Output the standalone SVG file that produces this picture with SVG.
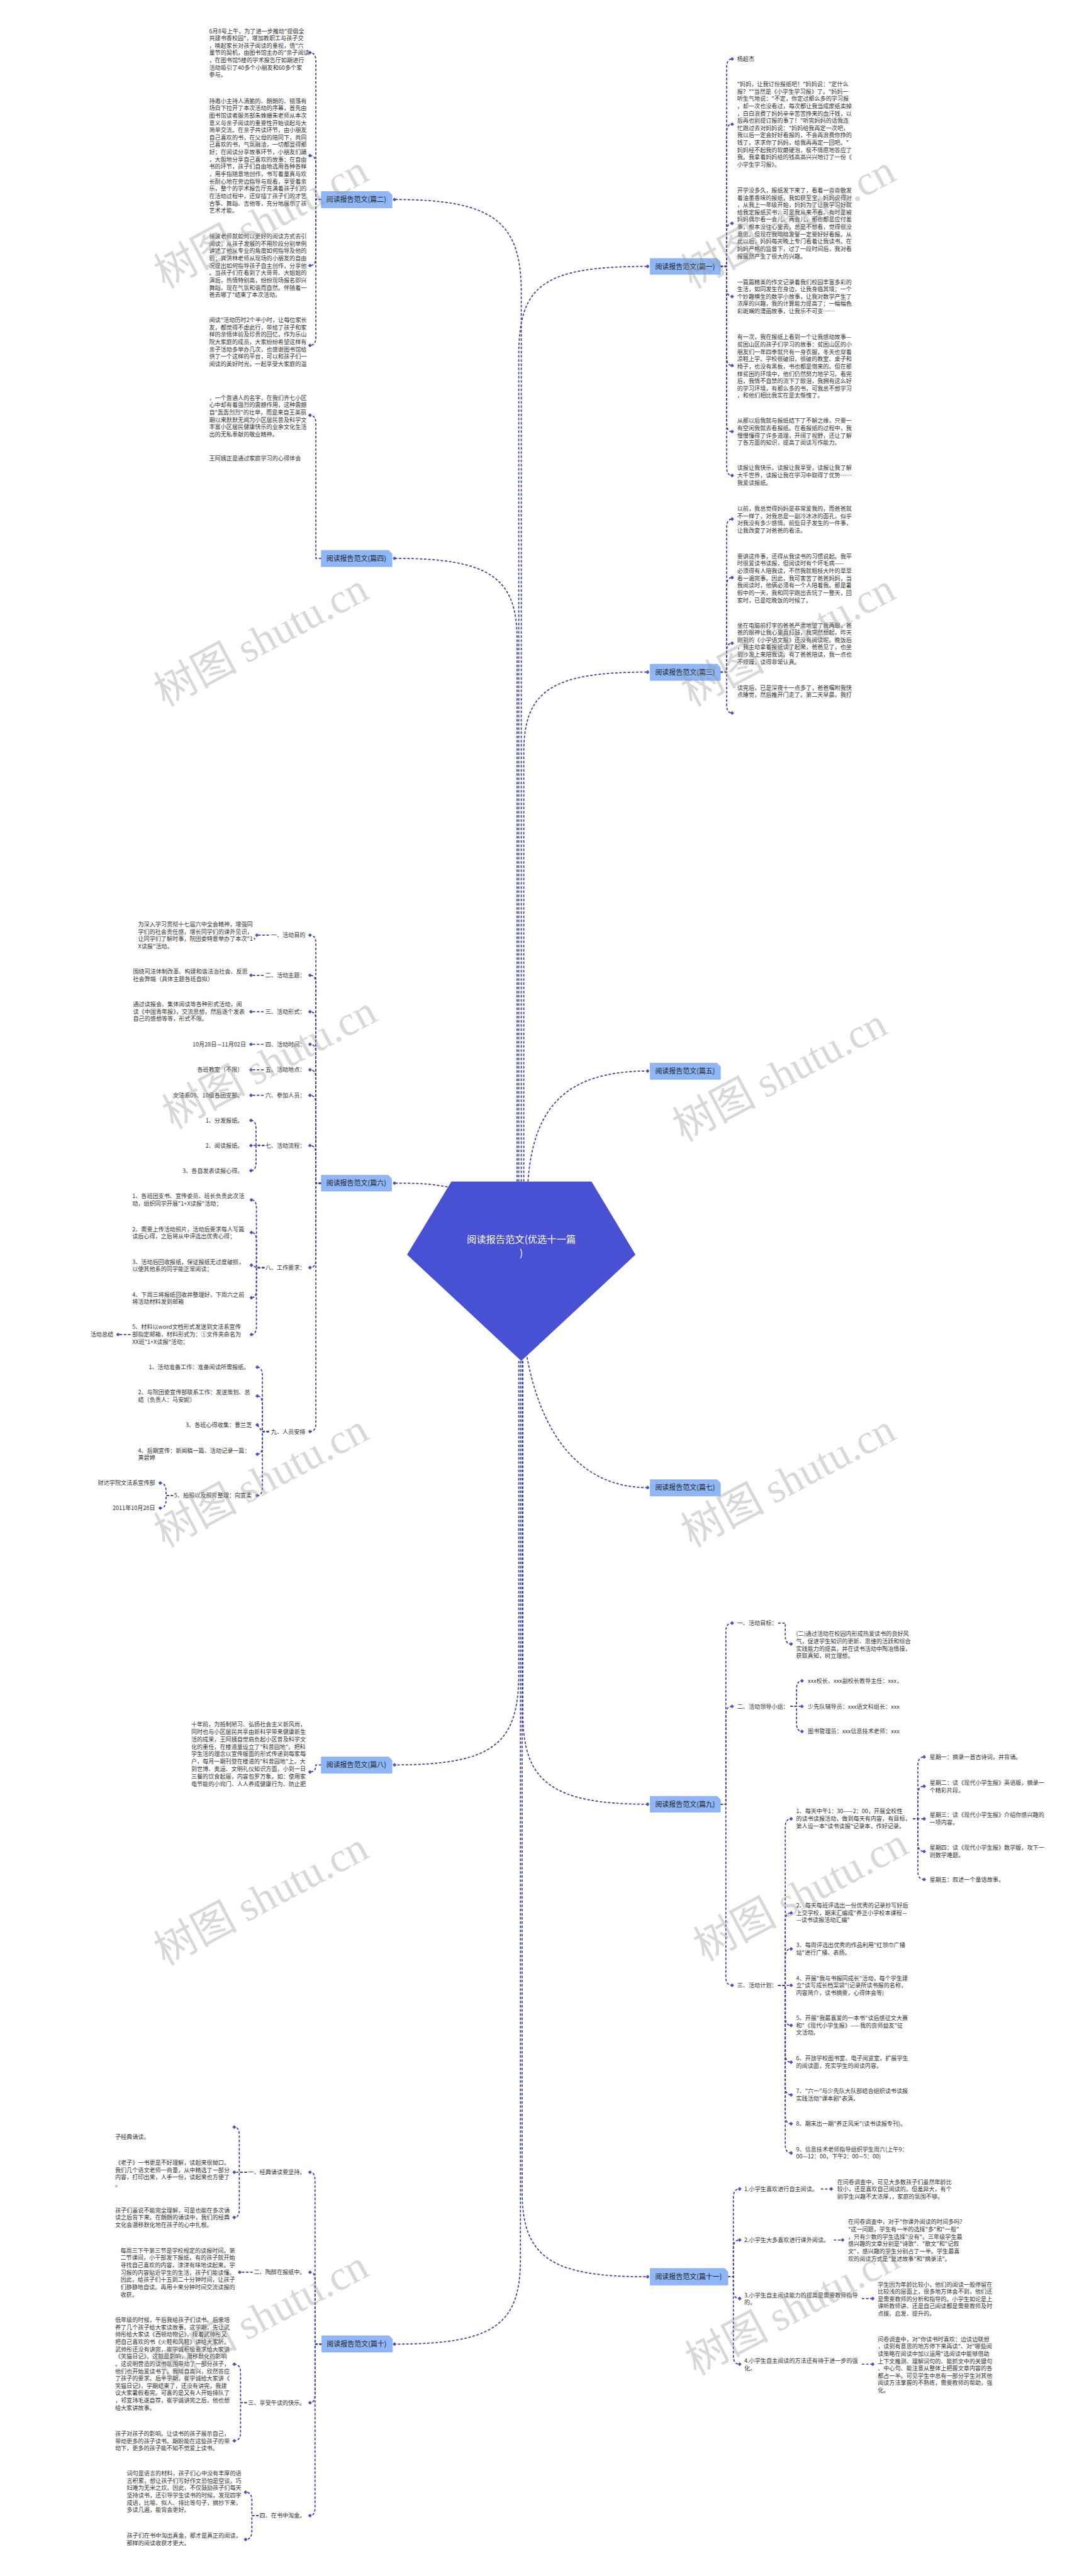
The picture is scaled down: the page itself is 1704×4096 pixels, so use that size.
<svg xmlns="http://www.w3.org/2000/svg" width="1704" height="4096" viewBox="0 0 1704 4096">
<style>
.t{font-family:"Noto Sans CJK SC","Liberation Sans",sans-serif;font-size:13.7px;fill:#333}
.e{text-anchor:end}
.b{font-family:"Noto Sans CJK SC","Liberation Sans",sans-serif;font-size:16.5px;fill:#1f1f1f}
.m{font-family:"Noto Sans CJK SC","Liberation Sans",sans-serif;font-size:23px;fill:#fff;text-anchor:middle}
.c{fill:none;stroke:#3b40a6;stroke-width:2.6;stroke-dasharray:6 4;marker-end:url(#dm)}
.lbl{fill:#8fb6f6;stroke:#7ea5ec;stroke-width:1}
.w{font-size:100px;fill:#9a9a9a;opacity:.38}
</style>
<defs>
<marker id="dm" viewBox="-6 -6 12 12" markerWidth="11" markerHeight="11" markerUnits="userSpaceOnUse" refX="0" refY="0" orient="0"><path d="M0-5L5 0 0 5-5 0Z" fill="#4650c8"/></marker>
</defs>
<rect width="1704" height="4096" fill="#fff"/>
<g transform="scale(0.665)">
<g id="connectors">
<path class="c" d="M1246 2825V700C1246 530 1180 477 943 477"/>
<path class="c" d="M1240 2825V850C1240 680 1300 637 1548 637"/>
<path class="c" d="M1236 2825V1530C1236 1380 1170 1335 943 1335"/>
<path class="c" d="M1252 2825V1800C1252 1650 1320 1607 1548 1607"/>
<path class="c" d="M1262 2825C1275 2650 1350 2561 1548 2561"/>
<path class="c" d="M1070 2838C1020 2829 990 2829 943 2829"/>
<path class="c" d="M1258 3235C1290 3420 1380 3557 1548 3557"/>
<path class="c" d="M1240 3254V4000C1240 4170 1180 4220 943 4220"/>
<path class="c" d="M1250 3254V4100C1250 4260 1320 4314 1548 4314"/>
<path class="c" d="M1248 3254V5240C1248 5400 1320 5444 1548 5444"/>
<path class="c" d="M1244 3254V5400C1244 5560 1180 5605 943 5605"/>
<path class="c" d="M768 477H755V146Q755 126 741 126"/>
<path class="c" d="M768 477H755V392Q755 372 741 372"/>
<path class="c" d="M768 477H755V615Q755 635 741 635"/>
<path class="c" d="M768 477H755V806Q755 826 741 826"/>
<path class="c" d="M768 1335H755V1013Q755 993 741 993"/>
<path class="c" d="M768 4220H755Q755 4237 741 4237"/>
<path class="c" d="M1722 637H1737V161Q1737 141 1750 141"/>
<path class="c" d="M1722 637H1737V317Q1737 297 1750 297"/>
<path class="c" d="M1722 637H1737V554Q1737 534 1750 534"/>
<path class="c" d="M1722 637H1737V689Q1737 709 1750 709"/>
<path class="c" d="M1722 637H1737V854Q1737 874 1750 874"/>
<path class="c" d="M1722 637H1737V1012Q1737 1032 1750 1032"/>
<path class="c" d="M1722 637H1737V1117Q1737 1137 1750 1137"/>
<path class="c" d="M1722 1607H1737V1261Q1737 1241 1750 1241"/>
<path class="c" d="M1722 1607H1737V1401Q1737 1381 1750 1381"/>
<path class="c" d="M1722 1607H1737V1558Q1737 1538 1750 1538"/>
<path class="c" d="M1722 1607H1737V1685Q1737 1705 1750 1705"/>
<path class="c" d="M768 2829H755V2256Q755 2236 741 2236"/>
<path class="c" d="M768 2829H755V2352Q755 2332 741 2332"/>
<path class="c" d="M768 2829H755V2439Q755 2419 741 2419"/>
<path class="c" d="M768 2829H755V2517Q755 2497 741 2497"/>
<path class="c" d="M768 2829H755V2578Q755 2558 741 2558"/>
<path class="c" d="M768 2829H755V2639Q755 2619 741 2619"/>
<path class="c" d="M768 2829H755V2759Q755 2739 741 2739"/>
<path class="c" d="M768 2829H755V3011Q755 3031 741 3031"/>
<path class="c" d="M768 2829H755V3403Q755 3423 741 3423"/>
<path class="c" d="M643 2236H614"/>
<path class="c" d="M630 2332H600"/>
<path class="c" d="M630 2419H600"/>
<path class="c" d="M630 2497H600"/>
<path class="c" d="M630 2558H600"/>
<path class="c" d="M630 2619H600"/>
<path class="c" d="M632 2739H612V2699Q612 2679 600 2679"/>
<path class="c" d="M632 2739H600"/>
<path class="c" d="M632 2739H612V2779Q612 2799 600 2799"/>
<path class="c" d="M632 3031H613V2889Q613 2869 601 2869"/>
<path class="c" d="M632 3031H613V2967Q613 2947 601 2947"/>
<path class="c" d="M632 3031H613L601 3025"/>
<path class="c" d="M632 3031H613V3083Q613 3103 601 3103"/>
<path class="c" d="M632 3031H613V3171Q613 3191 601 3191"/>
<path class="c" d="M312 3191H282"/>
<path class="c" d="M643 3423H627V3289Q627 3269 615 3269"/>
<path class="c" d="M643 3423H627V3358Q627 3338 615 3338"/>
<path class="c" d="M643 3423H627L615 3407"/>
<path class="c" d="M643 3423H627V3457Q627 3477 615 3477"/>
<path class="c" d="M643 3423H627V3556Q627 3576 615 3576"/>
<path class="c" d="M414 3576H397V3566Q397 3546 383 3546"/>
<path class="c" d="M414 3576H397V3586Q397 3606 383 3606"/>
<path class="c" d="M1722 4314H1735V3901Q1735 3881 1750 3881"/>
<path class="c" d="M1722 4314H1735V4100Q1735 4080 1750 4080"/>
<path class="c" d="M1722 4314H1735V4727Q1735 4747 1750 4747"/>
<path class="c" d="M1860 3881H1877V3911Q1877 3931 1891 3931"/>
<path class="c" d="M1889 4080H1904V4039Q1904 4019 1917 4019"/>
<path class="c" d="M1889 4080H1917"/>
<path class="c" d="M1889 4080H1904V4120Q1904 4140 1917 4140"/>
<path class="c" d="M1860 4747H1877V4369Q1877 4349 1891 4349"/>
<path class="c" d="M1860 4747H1877V4594Q1877 4574 1891 4574"/>
<path class="c" d="M1860 4747H1877V4680Q1877 4660 1891 4660"/>
<path class="c" d="M1860 4747H1891"/>
<path class="c" d="M1860 4747H1877V4823Q1877 4843 1891 4843"/>
<path class="c" d="M1860 4747H1877V4911Q1877 4931 1891 4931"/>
<path class="c" d="M1860 4747H1877V4989Q1877 5009 1891 5009"/>
<path class="c" d="M1860 4747H1877V5058Q1877 5078 1891 5078"/>
<path class="c" d="M1860 4747H1877V5128Q1877 5148 1891 5148"/>
<path class="c" d="M2182 4349H2194V4221Q2194 4201 2209 4201"/>
<path class="c" d="M2182 4349H2194V4291Q2194 4271 2209 4271"/>
<path class="c" d="M2182 4349H2209"/>
<path class="c" d="M2182 4349H2194V4407Q2194 4427 2209 4427"/>
<path class="c" d="M2182 4349H2194V4474Q2194 4494 2209 4494"/>
<path class="c" d="M1740 5444H1753V5254Q1753 5234 1768 5234"/>
<path class="c" d="M1740 5444H1753V5376Q1753 5356 1768 5356"/>
<path class="c" d="M1740 5444H1753V5476Q1753 5496 1768 5496"/>
<path class="c" d="M1740 5444H1753V5633Q1753 5653 1768 5653"/>
<path class="c" d="M1962 5234H1987"/>
<path class="c" d="M1993 5356H2014"/>
<path class="c" d="M2060 5496H2086"/>
<path class="c" d="M2060 5653H2086"/>
<path class="c" d="M769 5605H753V5214Q753 5194 741 5194"/>
<path class="c" d="M769 5605H753V5453Q753 5433 741 5433"/>
<path class="c" d="M769 5605H753V5725Q753 5745 741 5745"/>
<path class="c" d="M769 5605H753V5995Q753 6015 741 6015"/>
<path class="c" d="M590 5194H572V5106Q572 5086 560 5086"/>
<path class="c" d="M590 5194H560"/>
<path class="c" d="M590 5194H572V5282Q572 5302 560 5302"/>
<path class="c" d="M604 5433H573"/>
<path class="c" d="M590 5745H575V5673Q575 5653 560 5653"/>
<path class="c" d="M590 5745H575V5816Q575 5836 560 5836"/>
<path class="c" d="M618 6015H602V5979Q602 5959 587 5959"/>
<path class="c" d="M618 6015H602V6052Q602 6072 587 6072"/>
</g>

<g id="center">
<polygon points="1079,2825 1414,2825 1519,3000 1246,3254 973,3000" fill="#4851d4"/>
<text class="m" x="1246" y="2972">阅读报告范文(优选十一篇</text>
<text class="m" x="1246" y="3004">)</text>
</g>

<g id="b1"><path class="lbl" d="M1554 618H1714L1722 626V656H1554Z"/><text class="b" x="1566" y="643">阅读报告范文(篇一)</text></g>
<g id="b2"><path class="lbl" d="M768 458H929L937 466V497H768Z"/><text class="b" x="780" y="483">阅读报告范文(篇二)</text></g>
<g id="b3"><path class="lbl" d="M1554 1588H1714L1722 1596V1627H1554Z"/><text class="b" x="1566" y="1613">阅读报告范文(篇三)</text></g>
<g id="b4"><path class="lbl" d="M768 1316H929L937 1324V1355H768Z"/><text class="b" x="780" y="1341">阅读报告范文(篇四)</text></g>
<g id="b5"><path class="lbl" d="M1554 2542H1714L1722 2550V2581H1554Z"/><text class="b" x="1566" y="2567">阅读报告范文(篇五)</text></g>
<g id="b6"><path class="lbl" d="M768 2810H928L936 2818V2848H768Z"/><text class="b" x="780" y="2835">阅读报告范文(篇六)</text></g>
<g id="b7"><path class="lbl" d="M1554 3538H1714L1722 3546V3577H1554Z"/><text class="b" x="1566" y="3563">阅读报告范文(篇七)</text></g>
<g id="b8"><path class="lbl" d="M768 4201H929L937 4209V4240H768Z"/><text class="b" x="780" y="4226">阅读报告范文(篇八)</text></g>
<g id="b9"><path class="lbl" d="M1554 4295H1714L1722 4303V4333H1554Z"/><text class="b" x="1566" y="4320">阅读报告范文(篇九)</text></g>
<g id="b10"><path class="lbl" d="M769 5585H930L938 5593V5624H769Z"/><text class="b" x="781" y="5611">阅读报告范文(篇十)</text></g>
<g id="b11"><path class="lbl" d="M1554 5424H1732L1740 5432V5464H1554Z"/><text class="b" x="1566" y="5450">阅读报告范文(篇十一)</text></g>

<g id="n-pian1">
<text class="t" x="1762" y="146">杨超杰</text>
<text class="t" x="1762" y="206">"妈妈，让我订份报纸吧！"妈妈说："定什么<tspan x="1762" dy="17.5">报？""当然是《小学生学习报》了。"妈妈一</tspan><tspan x="1762" dy="17.5">听生气地说："不定，你定过那么多的学习报</tspan><tspan x="1762" dy="17.5">，却一次也没看过，每次都让我当成废纸卖掉</tspan><tspan x="1762" dy="17.5">，白白浪费了妈妈辛辛苦苦挣来的血汗钱，以</tspan><tspan x="1762" dy="17.5">后再也别提订报的事了！"听完妈妈的话我连</tspan><tspan x="1762" dy="17.5">忙跑过去对妈妈说："妈妈给我再定一次吧，</tspan><tspan x="1762" dy="17.5">我以后一定会好好看报的，不会再浪费你挣的</tspan><tspan x="1762" dy="17.5">钱了。求求你了妈妈，给我再再定一回吧。"</tspan><tspan x="1762" dy="17.5">妈妈经不起我的软磨硬泡，极不情愿地答应了</tspan><tspan x="1762" dy="17.5">我。我拿着妈妈给的钱高高兴兴地订了一份《</tspan><tspan x="1762" dy="17.5">小学生学习报》。</tspan></text>
<text class="t" x="1762" y="460">开学没多久，报纸发下来了，看着一沓沓散发<tspan x="1762" dy="17.5">着油墨香味的报纸，我如获至宝。妈妈说得对</tspan><tspan x="1762" dy="17.5">，从我上一年级开始，妈妈为了让我学习好就</tspan><tspan x="1762" dy="17.5">给我定报纸买书，可是我从来不看。有时是被</tspan><tspan x="1762" dy="17.5">妈妈偶尔看一会儿、两会儿，那也都是应付差</tspan><tspan x="1762" dy="17.5">事，根本没往心里去，总是不想看，觉得很没</tspan><tspan x="1762" dy="17.5">意思。但现在我暗暗发誓一定要好好看报。从</tspan><tspan x="1762" dy="17.5">此以后，妈妈每天晚上专门看着让我读书。在</tspan><tspan x="1762" dy="17.5">妈妈严格的监督下，过了一段时间后，我对看</tspan><tspan x="1762" dy="17.5">报居然产生了很大的兴趣。</tspan></text>
<text class="t" x="1762" y="679">一篇篇精美的作文记录着我们校园丰富多彩的<tspan x="1762" dy="17.5">生活，如同发生在身边，让我身临其境；一个</tspan><tspan x="1762" dy="17.5">个妙趣横生的数学小故事，让我对数学产生了</tspan><tspan x="1762" dy="17.5">浓厚的兴趣，我的计算能力提高了；一幅幅色</tspan><tspan x="1762" dy="17.5">彩斑斓的漫画故事，让我乐不可支……</tspan></text>
<text class="t" x="1762" y="811">有一次，我在报纸上看到一个让我感动故事—<tspan x="1762" dy="17.5">贫困山区的孩子们学习的故事：贫困山区的小</tspan><tspan x="1762" dy="17.5">朋友们一年四季就只有一身衣服，冬天也穿着</tspan><tspan x="1762" dy="17.5">凉鞋上学。学校很破旧，很破的教室、桌子和</tspan><tspan x="1762" dy="17.5">椅子，也没有黑板，书也都是借来的。但在那</tspan><tspan x="1762" dy="17.5">样贫困的环境中，他们仍然努力地学习。看完</tspan><tspan x="1762" dy="17.5">后，我情不自禁的流下了眼泪，我拥有这么好</tspan><tspan x="1762" dy="17.5">的学习环境，有那么多的书，可我总不想学习</tspan><tspan x="1762" dy="17.5">，和他们相比我实在是太惭愧了。</tspan></text>
<text class="t" x="1762" y="1011">从那以后我就与报纸结下了不解之缘，只要一<tspan x="1762" dy="17.5">有空闲我就去看报纸。在看报纸的过程中，我</tspan><tspan x="1762" dy="17.5">慢慢懂得了许多道理，开阔了视野，还让了解</tspan><tspan x="1762" dy="17.5">了各方面的知识，提高了阅读写作能力。</tspan></text>
<text class="t" x="1762" y="1124">读报让我快乐，读报让我享受，读报让我了解<tspan x="1762" dy="17.5">大千世界，读报让我在学习中取得了优势……</tspan><tspan x="1762" dy="17.5">我爱读报纸。</tspan></text>
</g>

<g id="n-pian3">
<text class="t" x="1762" y="1221">以前，我总觉得妈妈是非常爱我的，而爸爸就<tspan x="1762" dy="17.5">不一样了，对我总是一副冷冰冰的面孔，似乎</tspan><tspan x="1762" dy="17.5">对我没有多少感情。前些日子发生的一件事，</tspan><tspan x="1762" dy="17.5">让我改变了对爸爸的看法。</tspan></text>
<text class="t" x="1762" y="1335">要讲这件事，还得从我读书的习惯说起。我平<tspan x="1762" dy="17.5">时很爱读书读报，但阅读时有个坏毛病——</tspan><tspan x="1762" dy="17.5">必须得有人陪我读，不然我就粗枝大叶的草草</tspan><tspan x="1762" dy="17.5">看一遍完事。因此，我可害苦了爸爸妈妈，当</tspan><tspan x="1762" dy="17.5">我阅读时，他俩必须有一个人陪着我。那是暑</tspan><tspan x="1762" dy="17.5">假中的一天，我和同学跑出去玩了一整天，回</tspan><tspan x="1762" dy="17.5">家时，已是吃晚饭的时候了。</tspan></text>
<text class="t" x="1762" y="1500">坐在电脑前打字的爸爸严肃地望了我两眼，爸<tspan x="1762" dy="17.5">爸的眼神让我心里直打鼓，我突然想起，昨天</tspan><tspan x="1762" dy="17.5">刚到的《小学语文报》还没有阅读呢。晚饭后</tspan><tspan x="1762" dy="17.5">，我主动拿着报纸读了起来，爸爸见了，也坐</tspan><tspan x="1762" dy="17.5">到沙发上来陪我读。有了爸爸陪读，我一点也</tspan><tspan x="1762" dy="17.5">不烦躁，读得非常认真。</tspan></text>
<text class="t" x="1762" y="1649">读完后，已是深夜十一点多了，爸爸嘱咐我快<tspan x="1762" dy="17.5">点睡觉，然后推开门走了。第二天早晨，我打</tspan></text>
</g>

<g id="n-pian2">
<text class="t" x="500" y="79">6月8号上午，为了进一步推动"提倡全<tspan x="500" dy="17.5">共建书香校园"，增加教职工与孩子交</tspan><tspan x="500" dy="17.5">，唤起家长对孩子阅读的重视，借"六</tspan><tspan x="500" dy="17.5">童节的契机，由图书馆主办的"亲子阅读</tspan><tspan x="500" dy="17.5">，在图书馆5楼的学术报告厅如期进行</tspan><tspan x="500" dy="17.5">活动吸引了40多个小朋友和60多个家</tspan><tspan x="500" dy="17.5">参与。</tspan></text>
<text class="t" x="500" y="246">持邀小主持人清脆的、朗朗的、错落有<tspan x="500" dy="17.5">场白下拉开了本次活动的序幕，首先由</tspan><tspan x="500" dy="17.5">图书馆读者服务部朱姝姗朱老师从本次</tspan><tspan x="500" dy="17.5">意义与亲子阅读的重要性开始谈起与大</tspan><tspan x="500" dy="17.5">简单交流。在亲子共读环节，由小朋友</tspan><tspan x="500" dy="17.5">自己喜欢的书，在父母的陪同下，共同</tspan><tspan x="500" dy="17.5">己喜欢的书，气氛融洽，一切都显得那</tspan><tspan x="500" dy="17.5">好；在阅读分享故事环节，小朋友们踊</tspan><tspan x="500" dy="17.5">，大胆地分享自己喜欢的故事；在自由</tspan><tspan x="500" dy="17.5">书的环节，孩子们自由地选用各种各样</tspan><tspan x="500" dy="17.5">，用手指随意地创作，书写着童真与欢</tspan><tspan x="500" dy="17.5">长耐心地在旁边指导与观看，享受着亲</tspan><tspan x="500" dy="17.5">乐，整个的学术报告厅充满着孩子们的</tspan><tspan x="500" dy="17.5">在活动过程中，还穿插了孩子们的才艺</tspan><tspan x="500" dy="17.5">古筝、舞蹈、吉他等，充分地展示了孩</tspan><tspan x="500" dy="17.5">艺术才能。</tspan></text>
<text class="t" x="500" y="570">徐波老师就如何以更好的阅读方式去引<tspan x="500" dy="17.5">阅读，从孩子发展的不用阶段分别举例</tspan><tspan x="500" dy="17.5">讲述了他从专业的角度如何指导及他的</tspan><tspan x="500" dy="17.5">验；龚洪林老师从现场的小朋友的自由</tspan><tspan x="500" dy="17.5">况提出如何指导孩子自主创作，分享他</tspan><tspan x="500" dy="17.5">。当孩子们在看到了大哥哥、大姐姐的</tspan><tspan x="500" dy="17.5">演后，热情特别高，纷纷现场报名即兴</tspan><tspan x="500" dy="17.5">舞蹈，现在气氛和谐而自然。伴随着一</tspan><tspan x="500" dy="17.5">爸去哪了"结束了本次活动。</tspan></text>
<text class="t" x="500" y="770">阅读"活动历时2个半小时，让每位家长<tspan x="500" dy="17.5">友，都觉得不虚此行，带给了孩子和家</tspan><tspan x="500" dy="17.5">样的亲情体验及珍贵的回忆，作为乐山</tspan><tspan x="500" dy="17.5">院大家庭的成员，大家纷纷希望这样有</tspan><tspan x="500" dy="17.5">亲子活动多举办几次，也感谢图书馆给</tspan><tspan x="500" dy="17.5">供了一个这样的平台，可以和孩子们一</tspan><tspan x="500" dy="17.5">阅读的美好时光，一起享受大家庭的温</tspan></text>
</g>

<g id="n-pian4">
<text class="t" x="500" y="956">，一个普通人的名字，在我们齐七小区<tspan x="500" dy="17.5">心中却有着强烈的震撼作用，这种震撼</tspan><tspan x="500" dy="17.5">自"轰轰烈烈"的壮举，而是来自王美丽</tspan><tspan x="500" dy="17.5">期以来默默无闻为小区居民普及科学文</tspan><tspan x="500" dy="17.5">丰富小区居民健康快乐的业余文化生活</tspan><tspan x="500" dy="17.5">出的无私奉献的敬业精神。</tspan></text>
<text class="t" x="500" y="1100">王阿姨正是通过家庭学习的心得体会</text>
</g>

<g id="n-pian8">
<text class="t" x="457" y="4128">十年前，为抵制陋习、弘扬社会主义新风尚，<tspan x="457" dy="17.8">同时也与小区居民共享由新科学带来健康新生</tspan><tspan x="457" dy="17.8">活的成果，王阿姨自觉肩负起小区普及科学文</tspan><tspan x="457" dy="17.8">化的重任，在楼道里设立了"科普园地"。把科</tspan><tspan x="457" dy="17.8">学生活的理念以宣传版面的形式传递到每家每</tspan><tspan x="457" dy="17.8">户，每月一期刊登在楼道的"科普园地"上。大</tspan><tspan x="457" dy="17.8">到世博、奥运、文明礼仪知识方面，小到一日</tspan><tspan x="457" dy="17.8">三餐的饮食起居，内容包罗万象。如：使用家</tspan><tspan x="457" dy="17.8">电节能的小窍门、人人养成健康行为、防止肥</tspan></text>
</g>

<g id="n-pian6">
<text class="t e" x="730" y="2241">一、活动目的</text>
<text class="t e" x="730" y="2337">二、活动主题：</text>
<text class="t e" x="730" y="2424">三、活动形式：</text>
<text class="t e" x="730" y="2502">四、活动时间：</text>
<text class="t e" x="730" y="2563">五、活动地点：</text>
<text class="t e" x="730" y="2624">六、参加人员：</text>
<text class="t e" x="730" y="2744">七、活动流程：</text>
<text class="t e" x="730" y="3036">八、工作要求：</text>
<text class="t e" x="730" y="3428">九、人员安排</text>
<text class="t" x="330" y="2215">为深入学习贯彻十七届六中全会精神，增强同<tspan x="330" dy="17.5">学们的社会责任感，增长同学们的课外见识，</tspan><tspan x="330" dy="17.5">让同学们了解时事，院团委特意举办了本次"1+</tspan><tspan x="330" dy="17.5">X读报"活动。</tspan></text>
<text class="t" x="318" y="2328">围绕司法体制改革、构建和谐法治社会、反思<tspan x="318" dy="17.5">社会弊端（具体主题各班自拟）</tspan></text>
<text class="t" x="318" y="2406">通过读报会、集体阅读等各种形式活动，阅<tspan x="318" dy="17.5">读《中国青年报》，交流思想，然后逐个发表</tspan><tspan x="318" dy="17.5">自己的感想等等，形式不限。</tspan></text>
<text class="t e" x="588" y="2502">10月28日—11月02日</text>
<text class="t e" x="581" y="2563">各班教室（不限）</text>
<text class="t e" x="581" y="2624">文法系09、10级各团支部。</text>
<text class="t e" x="581" y="2684">1、分发报纸。</text>
<text class="t e" x="581" y="2744">2、阅读报纸。</text>
<text class="t e" x="581" y="2804">3、各自发表读报心得。</text>
<text class="t" x="316" y="2865">1、各班团支书、宣传委员、班长负责此次活<tspan x="316" dy="17.5">动，组织同学开展"1+X读报"活动；</tspan></text>
<text class="t" x="316" y="2944">2、需要上传活动照片，活动后要求每人写篇<tspan x="316" dy="17.5">读后心得，之后将从中评选出优秀心得；</tspan></text>
<text class="t" x="316" y="3022">3、活动后回收报纸，保证报纸无过度破损，<tspan x="316" dy="17.5">以便其他系的同学能正常阅读；</tspan></text>
<text class="t" x="316" y="3100">4、下周三将报纸回收并整理好，下周六之前<tspan x="316" dy="17.5">将活动材料发到邮箱</tspan></text>
<text class="t" x="316" y="3178">5、材料以word文档形式发送到文法系宣传<tspan x="316" dy="17.5">部指定邮箱，材料形式为：①文件夹命名为</tspan><tspan x="316" dy="17.5">XX班"1+X读报"活动；</tspan></text>
<text class="t e" x="271" y="3196">活动总结</text>
<text class="t e" x="596" y="3274">1、活动准备工作：准备阅读所需报纸。</text>
<text class="t" x="330" y="3334">2、与院团委宣传部联系工作：发送策划、总<tspan x="330" dy="17.5">结（负责人：马安妮）</tspan></text>
<text class="t e" x="602" y="3412">3、各班心得收集：曹兰芝</text>
<text class="t" x="330" y="3473">4、后期宣传：新闻稿一篇、活动记录一篇：<tspan x="330" dy="17.5">黄碧婷</tspan></text>
<text class="t e" x="602" y="3581">5、拍照以及照片整理：向宣柔</text>
<text class="t e" x="371" y="3551">财达学院文法系宣传部</text>
<text class="t e" x="371" y="3611">2011年10月28日</text>
</g>

<g id="n-pian9">
<text class="t" x="1762" y="3886">一、活动目标：</text>
<text class="t" x="1762" y="4085">二、活动领导小组：</text>
<text class="t" x="1762" y="4752">三、活动计划：</text>
<text class="t" x="1903" y="3912">(二)通过活动在校园内形成热爱读书的良好风<tspan x="1903" dy="17.5">气，促进学生知识的更新、思维的活跃和综合</tspan><tspan x="1903" dy="17.5">实践能力的提高，并在读书活动中陶冶情操，</tspan><tspan x="1903" dy="17.5">获取真知，树立理想。</tspan></text>
<text class="t" x="1931" y="4024">xxx校长、xxx副校长教导主任：xxx，</text>
<text class="t" x="1931" y="4085">少先队辅导员：xxx语文科组长：xxx</text>
<text class="t" x="1931" y="4145">图书管理员：xxx信息技术老师：xxx</text>
<text class="t" x="1903" y="4336">1、每天中午1：30——2：00，开展全校性<tspan x="1903" dy="17.5">的读书读报活动，做到每天有内容，有目标，</tspan><tspan x="1903" dy="17.5">第人设一本"读书读报"记录本，作好记录。</tspan></text>
<text class="t" x="2222" y="4206">星期一：摘录一首古诗词，并背诵。</text>
<text class="t" x="2222" y="4268">星期二：读《现代小学生报》英语版，摘录一<tspan x="2222" dy="17.5">个精彩片段。</tspan></text>
<text class="t" x="2222" y="4345">星期三：读《现代小学生报》介绍你感兴趣的<tspan x="2222" dy="17.5">一项内容。</tspan></text>
<text class="t" x="2222" y="4423">星期四：读《现代小学生报》数学版，攻下一<tspan x="2222" dy="17.5">则数学难题。</tspan></text>
<text class="t" x="2222" y="4499">星期五：叙述一个童话故事。</text>
<text class="t" x="1903" y="4561">2、每天每班评选出一份优秀的记录抄写好后<tspan x="1903" dy="17.5">上交学校，期末汇编成"养正小学校本课程—</tspan><tspan x="1903" dy="17.5">—读书读报活动汇编"</tspan></text>
<text class="t" x="1903" y="4656">3、每周评选出优秀的作品利用"红领巾广播<tspan x="1903" dy="17.5">站"进行广播、表扬。</tspan></text>
<text class="t" x="1903" y="4735">4、开展"我与书报同成长"活动，每个学生建<tspan x="1903" dy="17.5">立"读写成长档案袋"(记录所读书报的名称，</tspan><tspan x="1903" dy="17.5">内容简介，读书摘要，心得体会等)</tspan></text>
<text class="t" x="1903" y="4830">5、开展"我最喜爱的一本书"读后感征文大赛<tspan x="1903" dy="17.5">和"《现代小学生报》——我的良师益友"征</tspan><tspan x="1903" dy="17.5">文活动。</tspan></text>
<text class="t" x="1903" y="4927">6、开放学校图书室、电子阅览室，扩展学生<tspan x="1903" dy="17.5">的阅读面，充实学生的阅读内容。</tspan></text>
<text class="t" x="1903" y="5005">7、"六一"与少先队大队部结合组织读书读报<tspan x="1903" dy="17.5">实践活动"课本剧"表演。</tspan></text>
<text class="t" x="1903" y="5083">8、期末出一期"养正风采"(读书读报专刊)。</text>
<text class="t" x="1903" y="5144">9、信息技术老师指导组织学生周六(上午9：<tspan x="1903" dy="17.5">00—12：00，下午2：00—5：00)</tspan></text>
</g>

<g id="n-pian11">
<text class="t" x="1779" y="5239">1.小学生喜欢进行自主阅读。</text>
<text class="t" x="1779" y="5361">2.小学生大多喜欢进行课外阅读。</text>
<text class="t" x="1779" y="5493">3.小学生自主阅读能力的提高是需要教师指导<tspan x="1779" dy="17.5">的。</tspan></text>
<text class="t" x="1779" y="5650">4.小学生自主阅读的方法还有待于进一步的强<tspan x="1779" dy="17.5">化。</tspan></text>
<text class="t" x="2001" y="5222">在问卷调查中，可见大多数孩子们虽然年龄比<tspan x="2001" dy="17.5">较小，还是喜欢自己阅读的。但差异大，有个</tspan><tspan x="2001" dy="17.5">别学生兴趣不太浓厚，，家庭的氛围不够。</tspan></text>
<text class="t" x="2027" y="5318">在问卷调查中，对于"你课外阅读的时间多吗?<tspan x="2027" dy="17.5">"这一问题，学生有一半的选择"多"和"一般"</tspan><tspan x="2027" dy="17.5">，只有少数的学生选择"没有"。三年级学生最</tspan><tspan x="2027" dy="17.5">感兴趣的文章分别是"诗歌"、"散文"和"记叙</tspan><tspan x="2027" dy="17.5">文"，感兴趣的学生分别占了一半。学生最喜</tspan><tspan x="2027" dy="17.5">欢的阅读方式是"复述故事"和"摘录法"。</tspan></text>
<text class="t" x="2098" y="5467">学生因为年龄比较小，他们的阅读一般停留在<tspan x="2098" dy="17.5">比较浅的层面上，很多地方体会不到，他们还</tspan><tspan x="2098" dy="17.5">是需要教师的分析和指导的。小学生如论是上</tspan><tspan x="2098" dy="17.5">课听教师讲、还是自己阅读都是需要教师及时</tspan><tspan x="2098" dy="17.5">点拨、启发、提升的。</tspan></text>
<text class="t" x="2098" y="5598">问卷调查中，对"你读书时喜欢：边读边联想<tspan x="2098" dy="17.5">，读到有意思的地方停下来再读"、对"哪些阅</tspan><tspan x="2098" dy="17.5">读策略在阅读中加以运用"选阅读中能够借助</tspan><tspan x="2098" dy="17.5">上下文推测、理解词句的、能抓文中的关键句</tspan><tspan x="2098" dy="17.5">、中心句、能注意从整体上把握文章内容的各</tspan><tspan x="2098" dy="17.5">都占一半。可见学生中总有一部分学生对其他</tspan><tspan x="2098" dy="17.5">阅读方法掌握的不熟练，需要教师的帮助，强</tspan><tspan x="2098" dy="17.5">化。</tspan></text>
</g>

<g id="n-pian10">
<text class="t e" x="730" y="5199">一、经典诵读要坚持。</text>
<text class="t e" x="730" y="5438">二、陶醉在报纸中。</text>
<text class="t e" x="730" y="5750">三、享受午读的快乐。</text>
<text class="t e" x="730" y="6020">四、在书中淘金。</text>
<text class="t" x="275" y="5115">子经典诵读。</text>
<text class="t" x="275" y="5176">《老子》一书更是不好理解，读起来很拗口。<tspan x="275" dy="17.5">我们几个语文老师一商量，从中精选了一部分</tspan><tspan x="275" dy="17.5">内容，打印出来，人手一份，读起来也方便了</tspan><tspan x="275" dy="17.5">。</tspan></text>
<text class="t" x="275" y="5290">孩子们虽说不能完全理解，可是也能在多次诵<tspan x="275" dy="17.5">读之后背下来。在朗朗的诵读中，我们的经典</tspan><tspan x="275" dy="17.5">文化会潜移默化地在孩子的心中扎根。</tspan></text>
<text class="t" x="288" y="5386">每周三下午第三节是学校规定的读报时间。第<tspan x="288" dy="17.5">二节课间，小干部发下报纸，有的孩子就开始</tspan><tspan x="288" dy="17.5">寻找自己喜欢的内容，津津有味地读起来。学</tspan><tspan x="288" dy="17.5">习报的内容贴近学生的生活，孩子们能读懂。</tspan><tspan x="288" dy="17.5">因此，给孩子们十五到二十分钟时间，让孩子</tspan><tspan x="288" dy="17.5">们静静地自读。再用十来分钟时间交流读报的</tspan><tspan x="288" dy="17.5">收获。</tspan></text>
<text class="t" x="275" y="5552">低年级的时候，午后我给孩子们读书。后来培<tspan x="275" dy="17.5">养了几个孩子给大家读故事。这学期，先让武</tspan><tspan x="275" dy="17.5">帅彤给大家读《西顿动物记》，接着武帅彤又</tspan><tspan x="275" dy="17.5">把自己喜欢的书《火鞋和风鞋》讲给大家听。</tspan><tspan x="275" dy="17.5">武帅彤还没有讲完，崔学诚积极要求给大家讲</tspan><tspan x="275" dy="17.5">《笑猫日记》。这就是影响，潜移默化的影响</tspan><tspan x="275" dy="17.5">。这说明营造的读书氛围带动了一部分孩子，</tspan><tspan x="275" dy="17.5">他们也开始爱读书了。我暗自高兴，欣然答应</tspan><tspan x="275" dy="17.5">了孩子的要求。后半学期，崔学诚给大家讲《</tspan><tspan x="275" dy="17.5">笑猫日记》，学期结束了，还没有讲完，我建</tspan><tspan x="275" dy="17.5">议大家暑假看完。可喜的是又有人开始排队了</tspan><tspan x="275" dy="17.5">，祁宣玮毛遂自荐，崔学诚讲完之后，他也想</tspan><tspan x="275" dy="17.5">给大家讲故事。</tspan></text>
<text class="t" x="275" y="5824">孩子对孩子的影响。让读书的孩子展示自己，<tspan x="275" dy="17.5">带动更多的孩子读书。期盼能在这些孩子的带</tspan><tspan x="275" dy="17.5">动下，更多的孩子能不知不觉爱上读书。</tspan></text>
<text class="t" x="303" y="5919">词句是语言的材料，孩子们心中没有丰厚的语<tspan x="303" dy="17.5">言积累，想让孩子们写好作文恐怕是空谈。巧</tspan><tspan x="303" dy="17.5">妇难为无米之炊。因此，不仅鼓励孩子们每天</tspan><tspan x="303" dy="17.5">坚持读书，还引导学生读书的时候，发现四字</tspan><tspan x="303" dy="17.5">成语，比喻、拟人、排比等句子，摘抄下来，</tspan><tspan x="303" dy="17.5">多读几遍，能背会更好。</tspan></text>
<text class="t" x="303" y="6068">孩子们在书中淘出真金，那才是真正的阅读，<tspan x="303" dy="17.5">那样的阅读收获才更大。</tspan></text>
</g>

<g id="watermarks" font-family="'Noto Sans CJK SC','Liberation Serif',serif">
<text class="w" transform="translate(640 560) rotate(-28)" text-anchor="middle">树图 <tspan font-family="'Liberation Serif',serif">shutu.cn</tspan></text>
<text class="w" transform="translate(1900 560) rotate(-28)" text-anchor="middle">树图 <tspan font-family="'Liberation Serif',serif">shutu.cn</tspan></text>
<text class="w" transform="translate(640 1560) rotate(-28)" text-anchor="middle">树图 <tspan font-family="'Liberation Serif',serif">shutu.cn</tspan></text>
<text class="w" transform="translate(1900 1560) rotate(-28)" text-anchor="middle">树图 <tspan font-family="'Liberation Serif',serif">shutu.cn</tspan></text>
<text class="w" transform="translate(660 2570) rotate(-28)" text-anchor="middle">树图 <tspan font-family="'Liberation Serif',serif">shutu.cn</tspan></text>
<text class="w" transform="translate(1880 2600) rotate(-28)" text-anchor="middle">树图 <tspan font-family="'Liberation Serif',serif">shutu.cn</tspan></text>
<text class="w" transform="translate(640 3570) rotate(-28)" text-anchor="middle">树图 <tspan font-family="'Liberation Serif',serif">shutu.cn</tspan></text>
<text class="w" transform="translate(1900 3570) rotate(-28)" text-anchor="middle">树图 <tspan font-family="'Liberation Serif',serif">shutu.cn</tspan></text>
<text class="w" transform="translate(640 4570) rotate(-28)" text-anchor="middle">树图 <tspan font-family="'Liberation Serif',serif">shutu.cn</tspan></text>
<text class="w" transform="translate(1930 4560) rotate(-28)" text-anchor="middle">树图 <tspan font-family="'Liberation Serif',serif">shutu.cn</tspan></text>
<text class="w" transform="translate(640 5570) rotate(-28)" text-anchor="middle">树图 <tspan font-family="'Liberation Serif',serif">shutu.cn</tspan></text>
<text class="w" transform="translate(1910 5550) rotate(-28)" text-anchor="middle">树图 <tspan font-family="'Liberation Serif',serif">shutu.cn</tspan></text>
</g>
</g>
</svg>
